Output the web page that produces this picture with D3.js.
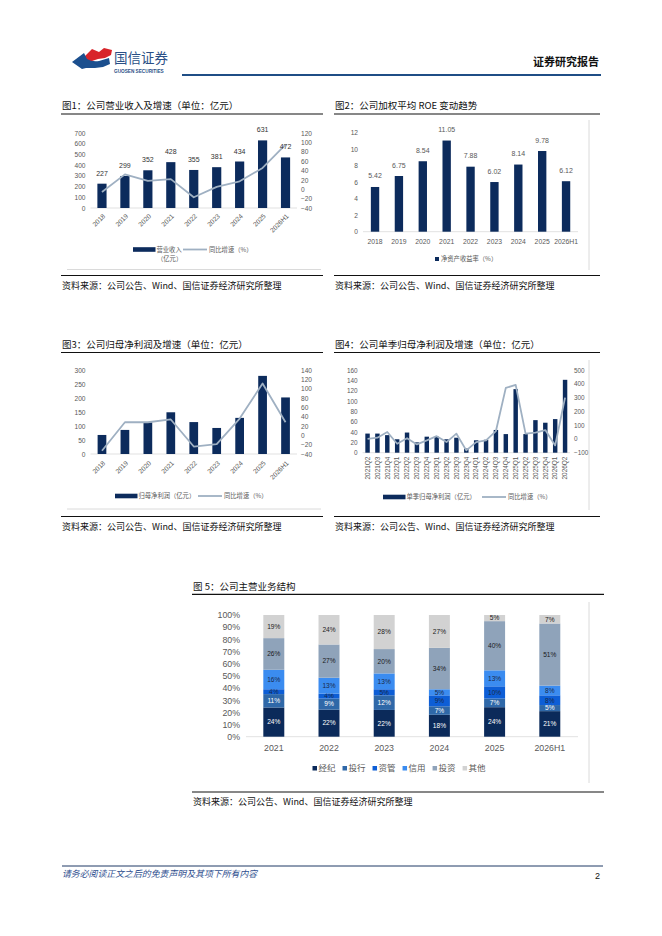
<!DOCTYPE html>
<meta charset="utf-8">
<style>
body { margin: 0; background: #fff; }
svg { display: block; font-family: "Liberation Sans", "Noto Sans CJK SC", sans-serif; }
.cjk { font-family: "Noto Sans CJK SC", "Liberation Sans", sans-serif; }
</style>
<body>
<div id="page"></div>
<script src="https://cdnjs.cloudflare.com/ajax/libs/d3/7.8.5/d3.min.js"></script>
<script>
// ---- data ----
var years = ["2018", "2019", "2020", "2021", "2022", "2023", "2024", "2025", "2026H1"];
var revenue = [227, 299, 352, 428, 355, 381, 434, 631, 472];
var revenueGrowth = [-6, 31.7, 17.7, 21.6, -17.1, 5, 17, 45.4, 95];
var roe = [5.42, 6.75, 8.54, 11.05, 7.88, 6.02, 8.14, 9.78, 6.12];
var netProfit = [68, 86, 113, 149, 114, 93, 129, 279, 202];
var netProfitGrowth = [-33, 28, 28, 34, -24, -19, 36, 111, 28];

var quarters = ["2021Q2", "2021Q3", "2021Q4", "2022Q1", "2022Q2", "2022Q3", "2022Q4",
  "2023Q1", "2023Q2", "2023Q3", "2023Q4", "2024Q1", "2024Q2", "2024Q3", "2024Q4",
  "2025Q1", "2025Q2", "2025Q3", "2025Q4", "2026Q1", "2026Q2"];
var quarterProfit = [37, 37, 34, 26, 39, 20, 31, 31, 26, 29, 8, 24, 25, 44, 36, 123, 36, 63, 58, 65, 141];
var quarterGrowth = [0, 9, 50, -35, 5, -40, -11, 20, -23, 38, -83, -23, -11, 57, 370, 392, 38, 45, 64, -47, 300];

var segYears = ["2021", "2022", "2023", "2024", "2025", "2026H1"];
var segNames = ["经纪", "投行", "资管", "信用", "投资", "其他"];
var brokerage = [24, 22, 22, 18, 24, 21];
var investBank = [11, 9, 12, 7, 7, 5];
var assetMgmt = [4, 4, 5, 9, 10, 8];
var credit = [16, 13, 13, 5, 13, 8];
var investment = [26, 27, 20, 34, 40, 51];
var others = [19, 24, 28, 27, 5, 7];

var source = "资料来源：公司公告、Wind、国信证券经济研究所整理";

var navy = "#0c2b5c", lineGray = "#9fb0c2", tickGray = "#595959";

var svg = d3.select("#page").append("svg").attr("width", 662).attr("height", 936);

// ---- page header ----
var hd = svg.append("g");
hd.append("path").attr("fill", "#d8242a")
  .attr("d", "M83,58 L92,49 L99,52 L104,48 L112,50 L111,55 L105,58 L98,59 L92,61 L87,61 Z");
hd.append("path").attr("fill", "#1b4f8e")
  .attr("d", "M72,62 L84,53 L87,59 Q92,62 99,61 L109,58 L110,64 L103,67 L95,68 L86,68 L82,69 Z");
hd.append("text").attr("class", "cjk").attr("x", 114).attr("y", 63)
  .attr("font-size", 13.5).attr("fill", "#2a4f86").text("国信证券");
hd.append("text").attr("x", 114).attr("y", 72.5).attr("font-size", 4.7).attr("font-weight", "bold")
  .attr("fill", "#2a4f86").text("GUOSEN SECURITIES");
hd.append("line").attr("x1", 182).attr("x2", 601).attr("y1", 75).attr("y2", 75)
  .attr("stroke", "#1f4e86").attr("stroke-width", 2);
hd.append("text").attr("class", "cjk").attr("x", 599).attr("y", 66).attr("text-anchor", "end")
  .attr("font-size", 11).attr("font-weight", "bold").attr("fill", "#111").text("证券研究报告");

// ---- page footer ----
svg.append("line").attr("x1", 62).attr("x2", 603).attr("y1", 866).attr("y2", 866)
  .attr("stroke", "#1f3864").attr("stroke-width", 1);
svg.append("text").attr("class", "cjk").attr("x", 62).attr("y", 877).attr("font-size", 8.9)
  .attr("font-style", "italic").attr("fill", "#2f4f8f").text("请务必阅读正文之后的免责声明及其项下所有内容");
svg.append("text").attr("x", 600).attr("y", 879).attr("text-anchor", "end").attr("font-size", 9)
  .attr("fill", "#111").text("2");

// ---- figure frame: title, rules, source ----
function frame(x0, x1, titleY, ruleY, srcRuleY, title) {
  svg.append("text").attr("class", "cjk").attr("x", x0 + 1).attr("y", titleY)
    .attr("font-size", 9.5).attr("fill", "#111").text(title);
  svg.append("line").attr("x1", x0).attr("x2", x1).attr("y1", ruleY).attr("y2", ruleY)
    .attr("stroke", "#111").attr("stroke-width", 1.2);
  svg.append("line").attr("x1", x0).attr("x2", x1).attr("y1", srcRuleY).attr("y2", srcRuleY)
    .attr("stroke", "#111").attr("stroke-width", 1.2);
  svg.append("text").attr("class", "cjk").attr("x", x0 + 1).attr("y", srcRuleY + 13)
    .attr("font-size", 9).attr("fill", "#111").text(source);
}
function hRule(x0, x1, y) {
  svg.append("line").attr("x1", x0).attr("x2", x1).attr("y1", y).attr("y2", y)
    .attr("stroke", "#d0d0d0").attr("stroke-width", 0.8);
}
function vRule(x, y0, y1) {
  svg.append("line").attr("x1", x).attr("x2", x).attr("y1", y0).attr("y2", y1)
    .attr("stroke", "#d0d0d0").attr("stroke-width", 0.8);
}

function axis(g, gen, x, size) {
  var a = g.append("g").attr("transform", "translate(" + x + ",0)").call(gen);
  a.select(".domain").remove();
  a.selectAll("text").attr("font-size", size).attr("fill", tickGray);
  return a;
}

// bar + growth line combo
function combo(o) {
  var g = svg.append("g");
  var x = d3.scaleBand().domain(o.cats).range(o.xr).paddingInner(o.pad).paddingOuter(o.pad / 2);
  var yL = d3.scaleLinear().domain(o.left).range(o.yr);
  var yR = d3.scaleLinear().domain(o.right).range(o.yr);

  axis(g, d3.axisLeft(yL).tickValues(d3.range(o.left[0], o.left[1] + 1e-9, o.leftStep))
    .tickSize(0).tickPadding(4), o.xr[0] - 1, o.fs);
  axis(g, d3.axisRight(yR).tickValues(d3.range(o.right[0], o.right[1] + 1e-9, o.rightStep))
    .tickSize(0).tickPadding(4), o.xr[1], o.fs);

  g.append("line").attr("x1", o.xr[0]).attr("x2", o.xr[1])
    .attr("y1", yL(0)).attr("y2", yL(0)).attr("stroke", "#d9d9d9").attr("stroke-width", 0.8);

  g.selectAll("rect.bar").data(o.bars).join("rect").attr("class", "bar")
    .attr("x", function (d, i) { return x(o.cats[i]); })
    .attr("width", x.bandwidth())
    .attr("y", function (d) { return yL(d); })
    .attr("height", function (d) { return yL(0) - yL(d); })
    .attr("fill", navy);

  var line = d3.line()
    .x(function (d, i) { return x(o.cats[i]) + x.bandwidth() / 2; })
    .y(function (d) { return yR(d); });
  g.append("path").datum(o.line).attr("d", line).attr("fill", "none")
    .attr("stroke", lineGray).attr("stroke-width", 1.8).attr("stroke-linejoin", "round");

  if (o.labels) {
    g.selectAll("text.val").data(o.bars).join("text").attr("class", "val")
      .attr("x", function (d, i) { return x(o.cats[i]) + x.bandwidth() / 2; })
      .attr("y", function (d) { return yL(d) - 8; })
      .attr("text-anchor", "middle").attr("font-size", 7).attr("fill", "#333")
      .text(function (d) { return d; });
  }

  g.selectAll("text.cat").data(o.cats).join("text").attr("class", "cat")
    .attr("transform", function (d) {
      return "translate(" + (x(d) + x.bandwidth() / 2 + o.catDx) + "," + (yL(0) + o.catDy) + ") rotate(" + o.rot + ")";
    })
    .attr("text-anchor", "end").attr("dy", "0.35em").attr("font-size", o.catFs).attr("fill", tickGray)
    .text(function (d) { return d; });

  // legend
  var lg = o.legend;
  g.append("rect").attr("x", lg.x).attr("y", lg.y - 2.3).attr("width", 22.5).attr("height", 4.6).attr("fill", navy);
  g.append("text").attr("class", "cjk").attr("x", lg.x + 23.5).attr("y", lg.y).attr("dy", "0.35em")
    .attr("font-size", 6.3).attr("fill", tickGray).text(lg.barName);
  if (lg.barName2) {
    g.append("text").attr("class", "cjk").attr("x", lg.x + 24).attr("y", lg.y + 9).attr("dy", "0.35em")
      .attr("font-size", 6.3).attr("fill", tickGray).text(lg.barName2);
  }
  g.append("line").attr("x1", lg.lx).attr("x2", lg.lx + 24).attr("y1", lg.y).attr("y2", lg.y)
    .attr("stroke", lineGray).attr("stroke-width", 1.8);
  g.append("text").attr("class", "cjk").attr("x", lg.lx + 26).attr("y", lg.y).attr("dy", "0.35em")
    .attr("font-size", 6.3).attr("fill", tickGray).text("同比增速（%）");
}

// ---- 图1 ----
frame(61, 323, 108.5, 114, 275.5, "图1：公司营业收入及增速（单位：亿元）");
hRule(67, 321, 269.5);
combo({
  cats: years, bars: revenue, line: revenueGrowth,
  xr: [90.5, 297], yr: [208, 133], pad: 0.6,
  left: [0, 700], leftStep: 100, right: [-40, 120], rightStep: 20, fs: 6.6,
  labels: true, rot: -45, catDx: 2, catDy: 7, catFs: 6.6,
  legend: { x: 133, y: 249.5, barName: "营业收入", barName2: "（亿元）", lx: 183 }
});

// ---- 图2 ----
frame(334, 600, 108.5, 114, 275.5, "图2：公司加权平均 ROE 变动趋势");
vRule(589, 120, 270);
(function () {
  var g = svg.append("g");
  var x = d3.scaleBand().domain(years).range([363.1, 578]).paddingInner(0.65).paddingOuter(0.325);
  var y = d3.scaleLinear().domain([0, 12]).range([231.7, 132.7]);
  axis(g, d3.axisLeft(y).tickValues(d3.range(0, 13, 2)).tickSize(0).tickPadding(4), 362, 6.6);
  g.append("line").attr("x1", 363).attr("x2", 578).attr("y1", y(0)).attr("y2", y(0))
    .attr("stroke", "#d9d9d9").attr("stroke-width", 0.8);
  g.selectAll("rect").data(roe).join("rect")
    .attr("x", function (d, i) { return x(years[i]); }).attr("width", x.bandwidth())
    .attr("y", function (d) { return y(d); }).attr("height", function (d) { return y(0) - y(d); })
    .attr("fill", navy);
  g.selectAll("text.val").data(roe).join("text").attr("class", "val")
    .attr("x", function (d, i) { return x(years[i]) + x.bandwidth() / 2; })
    .attr("y", function (d) { return y(d) - 8.5; })
    .attr("text-anchor", "middle").attr("font-size", 7).attr("fill", tickGray)
    .text(function (d) { return d.toFixed(2); });
  g.selectAll("text.cat").data(years).join("text").attr("class", "cat")
    .attr("x", function (d) { return x(d) + x.bandwidth() / 2; }).attr("y", 243.5)
    .attr("text-anchor", "middle").attr("font-size", 6.8).attr("fill", tickGray)
    .text(function (d) { return d; });
  g.append("rect").attr("x", 435).attr("y", 257).attr("width", 4).attr("height", 4).attr("fill", navy);
  g.append("text").attr("class", "cjk").attr("x", 441).attr("y", 259).attr("dy", "0.35em")
    .attr("font-size", 6.3).attr("fill", tickGray).text("净资产收益率（%）");
})();

// ---- 图3 ----
frame(61, 323, 348, 352.5, 516.5, "图3：公司归母净利润及增速（单位：亿元）");
hRule(67, 321, 509);
combo({
  cats: years, bars: netProfit, line: netProfitGrowth,
  xr: [90.5, 297], yr: [454, 370], pad: 0.62,
  left: [0, 300], leftStep: 50, right: [-40, 140], rightStep: 20, fs: 6.6,
  labels: false, rot: -45, catDx: 2, catDy: 8, catFs: 6.6,
  legend: { x: 115, y: 496, barName: "归母净利润（亿元）", lx: 198 }
});

// ---- 图4 ----
frame(334, 600, 348, 352.5, 516.5, "图4：公司单季归母净利润及增速（单位：亿元）");
vRule(589, 360, 510);
combo({
  cats: quarters, bars: quarterProfit, line: quarterGrowth,
  xr: [362.6, 570], yr: [452.7, 370], pad: 0.55,
  left: [0, 160], leftStep: 20, right: [-100, 500], rightStep: 100, fs: 6.4,
  labels: false, rot: -90, catDx: 0, catDy: 4, catFs: 6.4,
  legend: { x: 383, y: 497, barName: "单季归母净利润（亿元）", lx: 482 }
});

// ---- 图5 ----
frame(192, 604, 589.5, 594.3, 792, "图 5：公司主营业务结构");
vRule(589, 602, 783);
(function () {
  var g = svg.append("g");
  var rows = segYears.map(function (yr, i) {
    return { year: yr, "经纪": brokerage[i], "投行": investBank[i], "资管": assetMgmt[i],
      "信用": credit[i], "投资": investment[i], "其他": others[i] };
  });
  var colors = d3.scaleOrdinal().domain(segNames)
    .range(["#0b2a5a", "#2f68a8", "#0d5ed6", "#3b8cf0", "#8fa3ba", "#d2d2d2"]);
  var labelColors = d3.scaleOrdinal().domain(segNames)
    .range(["#ffffff", "#ffffff", "#1a2a4a", "#1a2a4a", "#1a1a1a", "#1a1a1a"]);
  var stack = d3.stack().keys(segNames).offset(d3.stackOffsetExpand);
  var series = stack(rows);
  var x = d3.scaleBand().domain(segYears).range([246.2, 577.4]).paddingInner(0.62).paddingOuter(0.31);
  var y = d3.scaleLinear().domain([0, 1]).range([736.7, 615]);

  axis(g, d3.axisLeft(y).tickValues(d3.range(0, 1.0001, 0.1)).tickSize(0).tickPadding(4)
    .tickFormat(function (d) { return Math.round(d * 100) + "%"; }), 244, 8.8);
  g.append("line").attr("x1", 246).attr("x2", 578).attr("y1", y(0)).attr("y2", y(0))
    .attr("stroke", "#d9d9d9").attr("stroke-width", 0.8);

  var sg = g.selectAll("g.seg").data(series).join("g").attr("class", "seg");
  sg.selectAll("rect").data(function (s) { return s.map(function (d) { d.key = s.key; return d; }); })
    .join("rect")
    .attr("x", function (d) { return x(d.data.year); }).attr("width", x.bandwidth())
    .attr("y", function (d) { return y(d[1]); }).attr("height", function (d) { return y(d[0]) - y(d[1]); })
    .attr("fill", function (d) { return colors(d.key); });
  sg.selectAll("text").data(function (s) { return s; }).join("text")
    .attr("x", function (d) { return x(d.data.year) + x.bandwidth() / 2; })
    .attr("y", function (d) { return (y(d[0]) + y(d[1])) / 2; })
    .attr("dy", "0.35em").attr("text-anchor", "middle").attr("font-size", 6.6)
    .attr("fill", function (d) { return labelColors(d.key); })
    .text(function (d) { return d.data[d.key] + "%"; });

  g.selectAll("text.cat").data(segYears).join("text").attr("class", "cat")
    .attr("x", function (d) { return x(d) + x.bandwidth() / 2; }).attr("y", 751)
    .attr("text-anchor", "middle").attr("font-size", 8.8).attr("fill", tickGray)
    .text(function (d) { return d; });

  // legend
  var lx = 312.5;
  segNames.forEach(function (n) {
    g.append("rect").attr("x", lx).attr("y", 766).attr("width", 4.5).attr("height", 4.5).attr("fill", colors(n));
    var t = g.append("text").attr("class", "cjk").attr("x", lx + 6).attr("y", 768.3).attr("dy", "0.35em")
      .attr("font-size", 8.5).attr("fill", tickGray).text(n);
    lx += 6 + t.node().getComputedTextLength() + 7;
  });
})();
</script>
</body>
